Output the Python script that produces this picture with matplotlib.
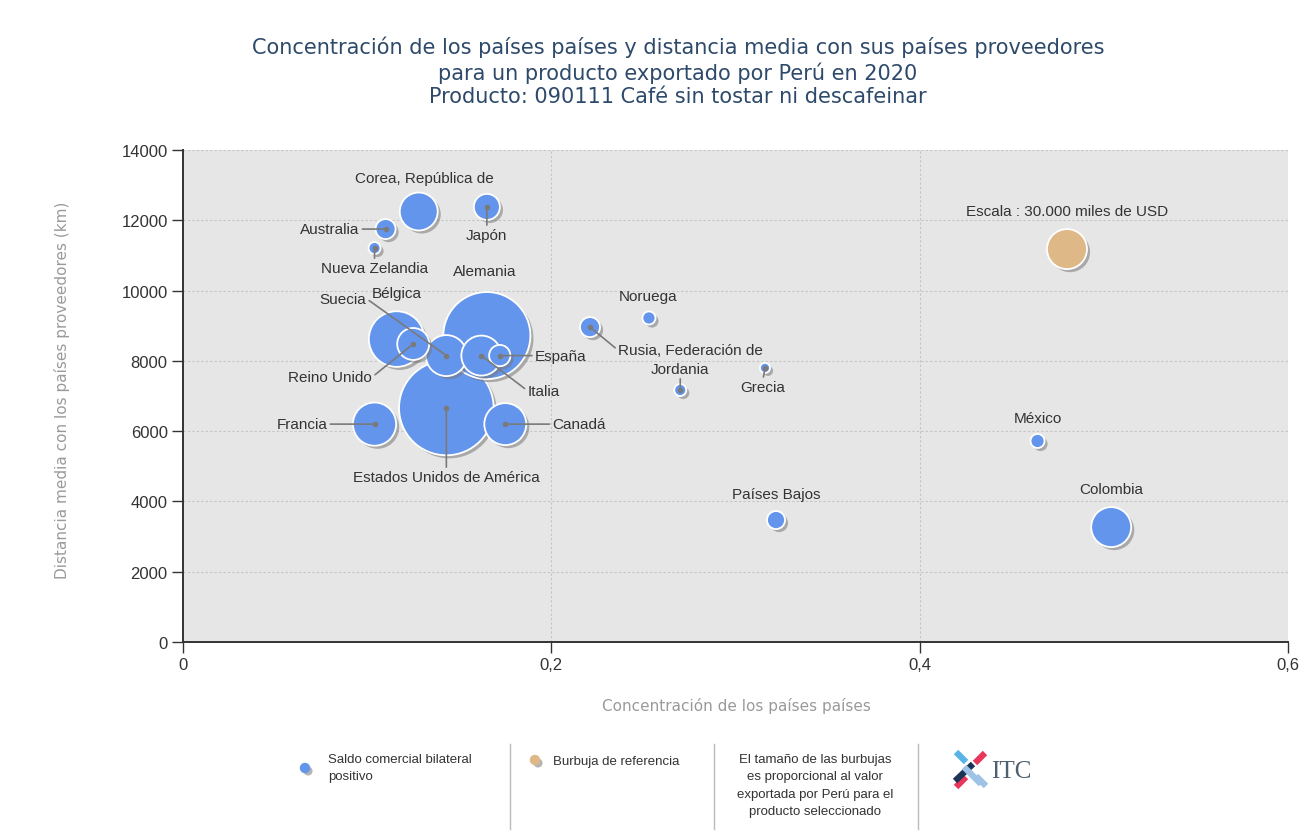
import numpy as np
import matplotlib.pyplot as plt
import matplotlib.patheffects as pe

# data (valor in miles de USD)
paises = ["Corea, República de", "Japón", "Australia", "Nueva Zelandia", "Bélgica",
          "Suecia", "Alemania", "Reino Unido", "España", "Italia", "Francia",
          "Canadá", "Estados Unidos de América", "Rusia, Federación de", "Noruega",
          "Jordania", "Grecia", "Países Bajos", "México", "Colombia"]
concentracion = [0.128, 0.165, 0.110, 0.104, 0.116,
                 0.143, 0.165, 0.125, 0.172, 0.162, 0.104,
                 0.175, 0.143, 0.221, 0.253,
                 0.270, 0.316, 0.322, 0.464, 0.504]
distancia = [12250, 12380, 11750, 11210, 8620,
             8150, 8720, 8480, 8150, 8150, 6200,
             6200, 6660, 8960, 9220,
             7170, 7800, 3470, 5720, 3270]
valor = [27000, 12700, 7500, 2700, 58000,
         31500, 142000, 19200, 8500, 30000, 35000,
         33000, 168000, 7500, 3200,
         2700, 1900, 6100, 3700, 30000]

ref_label = "Escala : 30.000 miles de USD"
ref_x, ref_y, ref_valor = 0.480, 11180, 30000

x_ticks = [0, 0.2, 0.4, 0.6]
x_ticklabels = ["0", "0,2", "0,4", "0,6"]
y_ticks = [0, 2000, 4000, 6000, 8000, 10000, 12000, 14000]

# label placement: offset of text from bubble centre in pixels, alignment, leader line
label_layout = {
    "Corea, República de": (6, 34, "center", False),
    "Japón": (0, -28, "center", True),
    "Australia": (-26, 0, "right", True),
    "Nueva Zelandia": (0, -20, "center", True),
    "Bélgica": (0, 46, "center", False),
    "Suecia": (-80, 57, "right", True),
    "Alemania": (-2, 65, "center", False),
    "Reino Unido": (-41, -33, "right", True),
    "España": (35, 0, "left", True),
    "Italia": (46, -35, "left", True),
    "Francia": (-47, 0, "right", True),
    "Canadá": (47, 0, "left", True),
    "Estados Unidos de América": (0, -69, "center", True),
    "Rusia, Federación de": (28, -23, "left", True),
    "Noruega": (-1, 22, "center", False),
    "Jordania": (0, 21, "center", True),
    "Grecia": (-2, -19, "center", True),
    "Países Bajos": (0, 26, "center", False),
    "México": (0, 23, "center", False),
    "Colombia": (0, 38, "center", False),
}

W, H = 1305, 837
DPI = 100
BLUE = "#6495ED"
TAN = "#DEB887"
TXT = "#333333"


def radius_px(v):
    # reference bubble (30 000) has a radius of about 20 px
    return 20 * np.sqrt(v / 30000)


def size_pt2(v):
    return (2 * radius_px(v) * 72 / DPI) ** 2


def fx(px):
    return px / W


def fy(py):
    return 1 - py / H


shadow = [pe.SimplePatchShadow(offset=(2.2, -2.2), shadow_rgbFace="#777777", alpha=0.55), pe.Normal()]

fig = plt.figure(figsize=(W / DPI, H / DPI), dpi=DPI)
ax = fig.add_axes([fx(183), fy(643), fx(1288) - fx(183), fy(151) - fy(643)])
ax.set_facecolor("#E6E6E6")

# bubbles, biggest first so small ones sit on top
order = np.argsort(valor)[::-1]
for i in order:
    ax.scatter(concentracion[i], distancia[i], s=size_pt2(valor[i]), color=BLUE,
               edgecolors="white", linewidths=1.3, zorder=3, path_effects=shadow)
ax.scatter(ref_x, ref_y, s=size_pt2(ref_valor), color=TAN, edgecolors="white",
           linewidths=1.3, zorder=3, path_effects=shadow)

# labels and leader lines
k = 72 / DPI
for i, name in enumerate(paises):
    dx, dy, ha, leader = label_layout[name]
    arrow = None
    if leader:
        if ha == "left":
            rel = (0, 0.5)
        elif ha == "right":
            rel = (1, 0.5)
        else:
            rel = (0.5, 1) if dy < 0 else (0.5, 0)
        arrow = dict(arrowstyle="-", color="#7a7a7a", lw=1.2, shrinkA=0, shrinkB=0, relpos=rel)
        ax.scatter(concentracion[i], distancia[i], s=9, color="#7a7a7a", zorder=6)
    ax.annotate(name, (concentracion[i], distancia[i]), xytext=(dx * k, dy * k),
                textcoords="offset points", ha=ha, va="center", fontsize=11,
                family="Liberation Sans", color=TXT, arrowprops=arrow, zorder=7,
                annotation_clip=False)
ax.annotate(ref_label, (ref_x, ref_y), xytext=(0, 38 * k), textcoords="offset points",
            ha="center", va="center", fontsize=11, family="Liberation Sans", color=TXT)

ax.set_xlim(0, 0.6)
ax.set_ylim(0, 14000)
ax.set_xticks(x_ticks)
ax.set_xticklabels(x_ticklabels)
ax.set_yticks(y_ticks)
ax.grid(True, color="#c4c4c4", linestyle=(0, (2, 2)), linewidth=0.8)
ax.set_axisbelow(True)
for s in ["top", "right"]:
    ax.spines[s].set_visible(False)
for s in ["left", "bottom"]:
    ax.spines[s].set_color("#333333")
    ax.spines[s].set_linewidth(1.4)
ax.tick_params(axis="both", length=8, width=1, color="#333333", labelcolor=TXT,
               labelsize=12, pad=3)
for lab in ax.get_xticklabels() + ax.get_yticklabels():
    lab.set_family("Liberation Sans")

fig.text(fx(736), fy(706), "Concentración de los países países", ha="center", va="center",
         fontsize=11, color="#9a9a9a")
fig.text(fx(62), fy(390), "Distancia media con los países proveedores (km)", ha="center",
         va="center", rotation=90, fontsize=11, color="#9a9a9a")

# title
fig.text(fx(678), fy(72), "Concentración de los países países y distancia media con sus países proveedores\n"
         "para un producto exportado por Perú en 2020\n"
         "Producto: 090111 Café sin tostar ni descafeinar",
         ha="center", va="center", fontsize=15, color="#2E4A6B", linespacing=1.22)

# bottom legend
ax_leg = fig.add_axes([0, 0, 1, 1], facecolor="none")
ax_leg.set_xlim(0, W)
ax_leg.set_ylim(H, 0)
ax_leg.axis("off")
ax_leg.scatter(305, 769, s=42, color=BLUE, path_effects=shadow)
ax_leg.text(328, 754, "Saldo comercial bilateral\npositivo", ha="left", va="top",
            fontsize=9.5, family="Liberation Sans", color=TXT, linespacing=1.6)
ax_leg.scatter(535, 761, s=42, color=TAN, path_effects=shadow)
ax_leg.text(553, 762, "Burbuja de referencia", ha="left", va="center",
            fontsize=9.5, family="Liberation Sans", color=TXT)
ax_leg.text(815, 754, "El tamaño de las burbujas\nes proporcional al valor\n"
            "exportada por Perú para el\nproducto seleccionado", ha="center", va="top",
            fontsize=9.5, family="Liberation Sans", color=TXT, linespacing=1.6)
for xs in [510, 714, 918]:
    ax_leg.plot([xs, xs], [745, 830], color="#bbbbbb", lw=1)

# ITC logo
logo = [((956, 753), (966, 763), "#58b4e8"), ((976, 777), (986, 787), "#9fc3e6"),
        ((985, 754), (975, 764), "#e8365d"), ((966, 778), (956, 788), "#e8365d"),
        ((973, 765), (955, 782), "#1c3557"), ((964, 768), (981, 785), "#9fc3e6")]
for p0, p1, c in logo:
    ax_leg.plot([p0[0], p1[0]], [p0[1], p1[1]], color=c, lw=4.5, solid_capstyle="butt")
ax_leg.text(991, 772, "ITC", ha="left", va="center", fontsize=18, family="Liberation Serif",
            color="#4f5f70")

fig.savefig("out.png", dpi=DPI)
